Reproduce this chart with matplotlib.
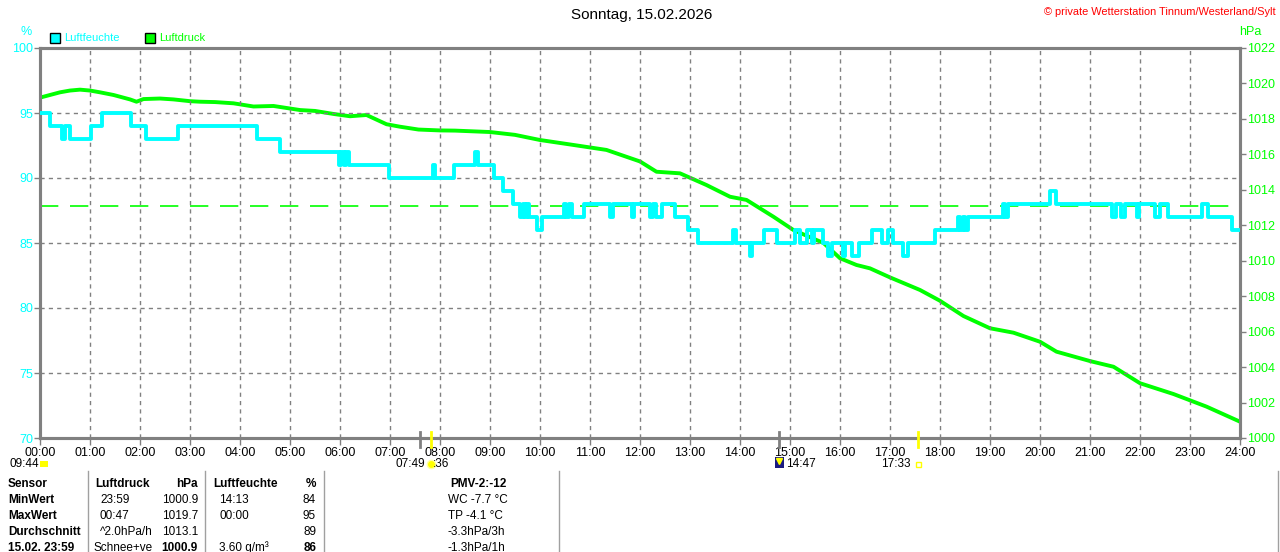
import matplotlib
matplotlib.use("Agg")
import matplotlib.pyplot as plt
from matplotlib.lines import Line2D
from matplotlib.patches import Rectangle

plt.rcParams['font.family'] = ['Liberation Sans', 'DejaVu Sans']

# ---------------- data ----------------
title = "Sonntag, 15.02.2026"
copyright_text = "© private Wetterstation Tinnum/Westerland/Sylt"
hour_labels = [f"{h:02d}:00" for h in range(25)]
hum_ticks = [70, 75, 80, 85, 90, 95, 100]
press_ticks = list(range(1000, 1023, 2))

# humidity (%) step series: time in hours, value
hum_t = [0.00, 0.20, 0.44, 0.50, 0.60, 1.02, 1.23, 1.82, 2.12, 2.76, 4.33, 4.80,
         5.97, 6.02, 6.07, 6.12, 6.17, 6.97, 7.85, 7.90, 8.27, 8.70, 8.76, 9.07,
         9.25, 9.45, 9.60, 9.65, 9.70, 9.74, 9.78, 9.93, 10.04, 10.47, 10.52,
         10.58, 10.64, 10.87, 11.40, 11.45, 11.84, 11.88, 12.20, 12.26, 12.32,
         12.44, 12.70, 12.96, 13.16, 13.86, 13.92, 14.20, 14.24, 14.48, 14.74,
         15.10, 15.20, 15.33, 15.43, 15.47, 15.66, 15.76, 15.84, 16.06, 16.10,
         16.24, 16.38, 16.64, 16.84, 16.96, 17.06, 17.26, 17.36, 17.90, 18.36,
         18.40, 18.46, 18.50, 18.56, 19.26, 19.30, 19.36, 20.20, 20.32, 21.44,
         21.52, 21.62, 21.70, 21.94, 21.98, 22.30, 22.40, 22.56, 23.24, 23.36,
         23.84, 24.00]
hum_v = [95, 94, 93, 94, 93, 94, 95, 94, 93, 94, 93, 92,
         91, 92, 91, 92, 91, 90, 91, 90, 91, 92, 91, 90,
         89, 88, 87, 88, 87, 88, 87, 86, 87, 88, 87,
         88, 87, 88, 87, 88, 87, 88, 87, 88, 87,
         88, 87, 86, 85, 86, 85, 84, 85, 86, 85,
         86, 85, 86, 85, 86, 85, 84, 85, 84, 85,
         84, 85, 86, 85, 86, 85, 84, 85, 86, 87,
         86, 87, 86, 87, 88, 87, 88, 89, 88, 87,
         88, 87, 88, 87, 88, 87, 88, 87, 88, 87,
         86, 86]

# air pressure (hPa)
press_t = [0.00, 0.20, 0.40, 0.60, 0.80, 1.00, 1.20, 1.47, 1.80, 1.93, 2.07, 2.40,
           2.67, 3.00, 3.20, 3.50, 3.87, 4.27, 4.67, 5.20, 5.50, 5.87, 6.20, 6.53,
           6.93, 7.20, 7.57, 8.00, 8.30, 9.00, 9.50, 10.00, 10.67, 11.33, 12.00,
           12.33, 12.80, 13.33, 13.80, 14.13, 14.67, 15.07, 15.67, 16.00, 16.33,
           16.60, 17.00, 17.60, 18.00, 18.47, 19.00, 19.47, 20.00, 20.33, 21.00,
           21.47, 22.00, 22.67, 23.33, 24.00]
press_v = [1019.20, 1019.35, 1019.50, 1019.60, 1019.65, 1019.60, 1019.50, 1019.35,
           1019.10, 1018.97, 1019.12, 1019.15, 1019.10, 1019.00, 1018.97, 1018.95,
           1018.88, 1018.70, 1018.73, 1018.50, 1018.45, 1018.28, 1018.15, 1018.22,
           1017.70, 1017.56, 1017.40, 1017.35, 1017.34, 1017.26, 1017.10, 1016.81,
           1016.53, 1016.25, 1015.60, 1015.02, 1014.93, 1014.27, 1013.61, 1013.43,
           1012.48, 1011.73, 1011.00, 1010.14, 1009.76, 1009.57, 1009.06, 1008.35,
           1007.74, 1006.88, 1006.19, 1005.94, 1005.43, 1004.87, 1004.34, 1004.02,
           1003.09, 1002.48, 1001.77, 1000.92]
press_avg = 1013.1

# astronomical markers (hours)
dawn_t = 7.60
sunrise_t = 7.82
moon_t = 14.78
sunset_t = 17.55
day_length_label = "09:44"
sunrise_label = "07:49"
dawn_label = ":36"
moon_label = "14:47"
sunset_label = "17:33"

# table
table_header = ["Sensor", "Luftdruck", "hPa", "Luftfeuchte", "%", "PMV-2:-12"]
row_names = ["MinWert", "MaxWert", "Durchschnitt", "15.02. 23:59"]
press_col1 = ["23:59", "00:47", "^2.0hPa/h", "Schnee+ve"]
press_col2 = ["1000.9", "1019.7", "1013.1", "1000.9"]
hum_col1 = ["14:13", "00:00", "", "3.60 g/m³"]
hum_col2 = ["84", "95", "89", "86"]
extra_col = ["WC -7.7 °C", "TP -4.1 °C", "-3.3hPa/3h", "-1.3hPa/1h"]

# ---------------- drawing ----------------
W, H = 1280, 552
fig = plt.figure(figsize=(W / 100, H / 100), dpi=100)
fig.patch.set_facecolor("white")

def fx(x):
    return x / W

def fy(y):
    return 1 - y / H

CYAN = "#00FFFF"
GREEN = "#00FF00"
GRAY = "#808080"

ax = fig.add_axes([fx(40), fy(438), fx(1240) - fx(40), fy(48) - fy(438)])
ax.set_xlim(0, 24)
ax.set_ylim(70, 100)
ax2 = ax.twinx()
ax2.set_ylim(1000, 1022)

for a in (ax, ax2):
    for s in a.spines.values():
        s.set_color(GRAY)
        s.set_linewidth(2.2)

# grid
for h in range(1, 24):
    ax.axvline(h, color=GRAY, lw=1, ls=(0, (3, 3)), zorder=1)
for v in [75, 80, 85, 90, 95]:
    ax.axhline(v, color=GRAY, lw=1, ls=(0, (3, 3)), zorder=1)

ax.set_xticks(range(25))
ax.set_xticklabels(hour_labels, fontsize=9)
ax.set_yticks(hum_ticks)
ax.set_yticklabels([str(v) for v in hum_ticks], fontsize=9, color=CYAN)
ax.tick_params(axis='x', colors=GRAY, labelcolor="black", length=5, width=1, pad=1.5, direction='out')
ax.tick_params(axis='y', colors=GRAY, labelcolor=CYAN, length=4, width=1, pad=1)
ax2.set_yticks(press_ticks)
ax2.set_yticklabels([str(v) for v in press_ticks], fontsize=9, color=GREEN)
ax2.tick_params(axis='y', colors=GRAY, labelcolor=GREEN, length=4, width=1, pad=1)

# average pressure
ax2.axhline(press_avg, color=GREEN, lw=1.2, ls=(0, (11, 7)), zorder=2)
# pressure line
ax2.plot(press_t, press_v, color=GREEN, lw=2.8, zorder=3, solid_joinstyle='round')
# humidity line (drawn above)
ax.set_zorder(ax2.get_zorder() + 1)
ax.patch.set_visible(False)
ax.step(hum_t, hum_v, where='post', color=CYAN, lw=2.8, zorder=4)

# astro ticks on time axis
for t, c, lw in [(dawn_t, GRAY, 2), (moon_t, GRAY, 2), (sunrise_t, "#FFFF00", 2), (sunset_t, "#FFFF00", 2)]:
    xp = 40 + t * 50
    fig.add_artist(Line2D([fx(xp), fx(xp)], [fy(432), fy(447)], color=c, lw=lw))

# titles
fig.text(fx(642), fy(15), title, ha="center", va="center", fontsize=11, color="#000000")
fig.text(fx(1276), fy(12), copyright_text, ha="right", va="center", fontsize=7.9, color="#FF0000")
fig.text(fx(26), fy(32), "%", ha="center", va="center", fontsize=9, color=CYAN)
fig.text(fx(1250), fy(32), "hPa", ha="center", va="center", fontsize=9, color=GREEN)

# legend
fig.add_artist(Rectangle((fx(50), fy(43)), fx(10), fy(33) - fy(43), facecolor=CYAN, edgecolor="black", lw=1))
fig.text(fx(64), fy(38), "Luftfeuchte", ha="left", va="center", fontsize=8, color=CYAN)
fig.add_artist(Rectangle((fx(145), fy(43)), fx(10), fy(33) - fy(43), facecolor=GREEN, edgecolor="black", lw=1))
fig.text(fx(159), fy(38), "Luftdruck", ha="left", va="center", fontsize=8, color=GREEN)

# astro labels
fig.text(fx(10), fy(464), day_length_label, ha="left", va="center", fontsize=8.5)
fig.add_artist(Rectangle((fx(40), fy(467)), fx(8), fy(461) - fy(467), facecolor="#FFFF00", edgecolor="none"))
fig.text(fx(425), fy(464), sunrise_label, ha="right", va="center", fontsize=8.5)
fig.add_artist(Line2D([fx(431)], [fy(464)], marker="o", ms=6, color="#FFFF00", mec="#FFFFA0"))
fig.text(fx(433), fy(464), dawn_label, ha="left", va="center", fontsize=8.5)
fig.add_artist(Rectangle((fx(775), fy(468)), fx(9), fy(457) - fy(468), facecolor="#1A1A80", edgecolor="none"))
fig.add_artist(Line2D([fx(778.5)], [fy(461)], marker="v", ms=4, color="#FFFF00"))
fig.text(fx(786), fy(464), moon_label, ha="left", va="center", fontsize=8.5)
fig.text(fx(911), fy(464), sunset_label, ha="right", va="center", fontsize=8.5)
fig.add_artist(Rectangle((fx(916), fy(467)), fx(5), fy(462) - fy(467), facecolor="none", edgecolor="#FFFF00", lw=1))

# table
for xv in [88, 205, 324, 559, 1278]:
    fig.add_artist(Line2D([fx(xv), fx(xv)], [fy(471), fy(552)], color="#A0A0A0", lw=1))

hy = 484
fs = 8.5
fig.text(fx(8), fy(hy), table_header[0], ha="left", va="center", fontsize=fs, fontweight="bold")
fig.text(fx(95), fy(hy), table_header[1], ha="left", va="center", fontsize=fs, fontweight="bold")
fig.text(fx(198), fy(hy), table_header[2], ha="right", va="center", fontsize=fs, fontweight="bold")
fig.text(fx(213), fy(hy), table_header[3], ha="left", va="center", fontsize=fs, fontweight="bold")
fig.text(fx(316), fy(hy), table_header[4], ha="right", va="center", fontsize=fs, fontweight="bold")
fig.text(fx(478), fy(hy), table_header[5], ha="center", va="center", fontsize=fs, fontweight="bold")

for i, name in enumerate(row_names):
    y = 500 + 16 * i
    last = (i == 3)
    fig.text(fx(8), fy(y), name, ha="left", va="center", fontsize=fs, fontweight="bold")
    x1 = 94 if last else 100
    fig.text(fx(x1), fy(y), press_col1[i], ha="left", va="center", fontsize=fs)
    fig.text(fx(198), fy(y), press_col2[i], ha="right", va="center", fontsize=fs,
             fontweight="bold" if last else "normal")
    fig.text(fx(219), fy(y), hum_col1[i], ha="left", va="center", fontsize=fs)
    fig.text(fx(316), fy(y), hum_col2[i], ha="right", va="center", fontsize=fs,
             fontweight="bold" if last else "normal")
    fig.text(fx(448), fy(y), extra_col[i], ha="left", va="center", fontsize=fs)

fig.savefig("out.png", dpi=100, facecolor="white")
